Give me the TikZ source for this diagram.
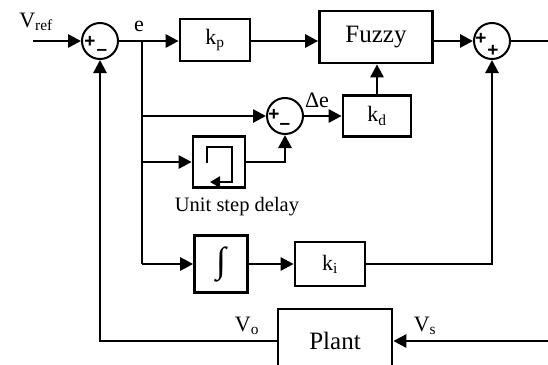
\documentclass[tikz,border=0pt]{standalone}
\usepackage{fontspec}
\setmainfont{Liberation Serif}
\newfontfamily\signfont{Liberation Sans}
\usetikzlibrary{arrows.meta}
\begin{document}
\begin{tikzpicture}[x=1pt,y=-1pt,
  blk/.style={draw,line width=2.7pt,inner sep=0pt,font=\fontsize{22}{24}\selectfont},
  bigblk/.style={blk,font=\fontsize{25}{27}\selectfont},
  sumc/.style={draw,circle,line width=2pt,minimum size=36pt,inner sep=0pt},
  conn/.style={line width=2.7pt},
  arr/.style={conn,-{Triangle[length=13pt,width=13pt]}},
  lbl/.style={font=\fontsize{22}{24}\selectfont,anchor=base,inner sep=0pt},
  sgn/.style={font=\signfont\bfseries\fontsize{19}{19}\selectfont,inner sep=0pt}]
\useasboundingbox (0,0) rectangle (548,364);
\clip (0,0) rectangle (548,364);
% nodes
\node[sumc] (s1) at (100,41) {};
\node[sgn] (s1p) at (90,42) {+};
\node[sgn] (s1m) at (102,52) {–};
\node[blk,minimum width=70pt,minimum height=42pt] (kp) at (215,40) {k\textsubscript{p}};
\node[bigblk,minimum width=113pt,minimum height=52pt] (fuzzy) at (376,37) {Fuzzy};
\node[sumc] (s2) at (492,41) {};
\node[sgn] (s2p) at (481,39) {+};
\node[sgn] (s2q) at (493,51) {+};
\node[sumc] (s3) at (285,116) {};
\node[sgn] (s3p) at (274,115) {+};
\node[sgn] (s3m) at (285,126) {–};
\node[blk,minimum width=68pt,minimum height=41pt] (kd) at (377,116) {k\textsubscript{d}};
\node[blk,minimum width=52pt,minimum height=51pt] (delay) at (219,162) {};
\node[font=\fontsize{20.5}{22}\selectfont,anchor=base,inner sep=0pt] (dlbl) at (237,211) {Unit step delay};
\node[blk,minimum width=53pt,minimum height=57pt,font=\fontsize{36}{36}\selectfont] (integ) at (221,264) {∫};
\node[blk,minimum width=70pt,minimum height=44pt] (ki) at (330,264) {k\textsubscript{i}};
\node[bigblk,minimum width=114pt,minimum height=64pt] (plant) at (335,341) {Plant};
% labels
\node[lbl] (vref) at (36,27) {V\textsubscript{ref}};
\node[lbl] (elbl) at (139,31) {e};
\node[lbl] (delbl) at (317,107) {Δe};
\node[lbl] (vo) at (247,331) {V\textsubscript{o}};
\node[lbl] (vsl) at (425,331) {V\textsubscript{s}};
% coordinates
\coordinate (vin) at (33,41);
\coordinate (vout) at (548,41);
\coordinate (br) at (142,41);
\coordinate (brb) at (142,264);
\coordinate (vs) at (548,341);
% delay icon
\draw[line width=2.2pt,-{Triangle[length=10pt,width=11pt]}]
  ([shift={(-12,1)}]delay.center) -- ++(0,-16) -- ++(25,0) -- ++(0,35) -- ++(-22,0);
% connectors
\draw[arr] (vin) -- (s1.west);
\draw[conn] (s1.east) -- (br);
\draw[arr] (br) -- (br -| kp.west);
\draw[arr] (br -| kp.east) -- (br -| fuzzy.west);
\draw[arr] (br -| fuzzy.east) -- (s2.west);
\draw[conn] (s2.east) -- (vout);
\draw[conn] (br) -- (brb);
\draw[arr] (br |- s3) -- (s3.west);
\draw[arr] (s3.east) -- (s3.east -| kd.west);
\draw[arr] (kd.north) -- (kd.north |- fuzzy.south);
\draw[arr] (br |- delay) -- (delay.west);
\draw[arr] (delay.east) -| (s3.south);
\draw[arr] (brb) -- (integ.west);
\draw[arr] (integ.east) -- (ki.west);
\draw[arr] (ki.east) -| (s2.south);
\draw[arr] (vs) -- (plant.east);
\draw[arr] (plant.west) -| (s1.south);
\end{tikzpicture}
\end{document}
